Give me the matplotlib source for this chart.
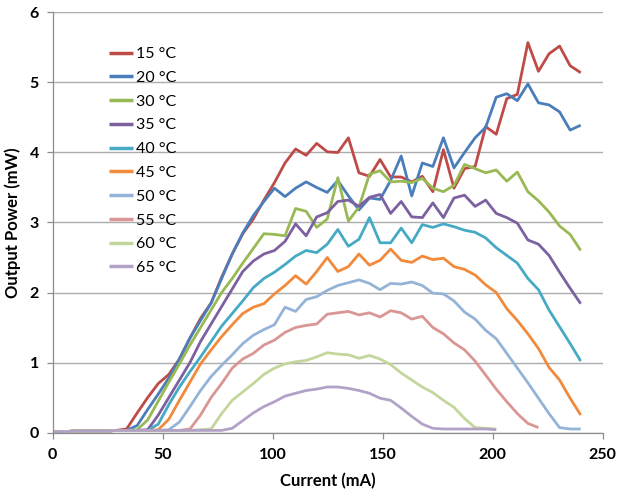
import matplotlib
matplotlib.use("Agg")
import matplotlib.pyplot as plt

current_mA = [0, 4.8, 9.6, 14.4, 19.2, 24, 28.8, 33.6, 38.4, 43.2, 48, 52.8, 57.6, 62.4,
              67.2, 72, 76.8, 81.6, 86.4, 91.2, 96, 100.8, 105.6, 110.4, 115.2, 120,
              124.8, 129.6, 134.4, 139.2, 144, 148.8, 153.6, 158.4, 163.2, 168, 172.8,
              177.6, 182.4, 187.2, 192, 196.8, 201.6, 206.4, 211.2, 216, 220.8, 225.6,
              230.4, 235.2, 240]

p15 = [0.01, 0.01, 0.02, 0.02, 0.02, 0.02, 0.03, 0.05, 0.28, 0.5, 0.7, 0.83, 1.05, 1.35,
       1.63, 1.85, 2.22, 2.55, 2.84, 3.05, 3.32, 3.57, 3.85, 4.05, 3.96, 4.13, 4.01, 4.0,
       4.21, 3.71, 3.66, 3.9, 3.65, 3.65, 3.58, 3.66, 3.44, 4.04, 3.49, 3.77, 3.8, 4.37,
       4.26, 4.77, 4.83, 5.57, 5.16, 5.41, 5.52, 5.24, 5.14]
p20 = [0.01, 0.01, 0.02, 0.02, 0.02, 0.02, 0.03, 0.03, 0.1, 0.33, 0.55, 0.78, 1.05, 1.35,
       1.6, 1.85, 2.2, 2.55, 2.85, 3.1, 3.3, 3.49, 3.37, 3.49, 3.58, 3.5, 3.43, 3.6, 3.38,
       3.18, 3.35, 3.33, 3.6, 3.95, 3.38, 3.85, 3.8, 4.21, 3.78, 4.0, 4.21, 4.36, 4.79,
       4.84, 4.74, 4.98, 4.71, 4.68, 4.58, 4.32, 4.39]
p30 = [0.01, 0.01, 0.02, 0.02, 0.02, 0.02, 0.03, 0.03, 0.04, 0.18, 0.45, 0.72, 0.98, 1.25,
       1.5, 1.75, 2.0, 2.2, 2.42, 2.63, 2.84, 2.83, 2.81, 3.2, 3.16, 2.93, 3.05, 3.64, 3.02,
       3.22, 3.69, 3.74, 3.58, 3.59, 3.57, 3.63, 3.49, 3.44, 3.53, 3.83, 3.77, 3.71, 3.75,
       3.59, 3.72, 3.44, 3.31, 3.15, 2.95, 2.83, 2.6]
p35 = [0.01, 0.01, 0.02, 0.02, 0.02, 0.02, 0.03, 0.03, 0.03, 0.04, 0.25, 0.5, 0.75, 1.0,
       1.3, 1.55, 1.8, 2.05, 2.3, 2.45, 2.55, 2.6, 2.73, 2.98, 2.81, 3.08, 3.14, 3.3, 3.32,
       3.23, 3.36, 3.4, 3.13, 3.3, 3.08, 3.07, 3.28, 3.07, 3.35, 3.39, 3.23, 3.32, 3.13,
       3.07, 2.99, 2.75, 2.69, 2.53, 2.29, 2.06, 1.84]
p40 = [0.01, 0.01, 0.02, 0.02, 0.02, 0.02, 0.03, 0.03, 0.03, 0.03, 0.12, 0.4, 0.65, 0.87,
       1.08, 1.3, 1.52, 1.7, 1.88, 2.07, 2.2, 2.29, 2.4, 2.52, 2.6, 2.57, 2.69, 2.9, 2.66,
       2.76, 3.07, 2.71, 2.71, 2.92, 2.71, 2.97, 2.93, 2.98, 2.94, 2.89, 2.86, 2.78, 2.64,
       2.53, 2.42, 2.2, 2.04, 1.75, 1.51, 1.27, 1.02]
p45 = [0.01, 0.01, 0.02, 0.02, 0.02, 0.02, 0.03, 0.03, 0.03, 0.03, 0.04, 0.19, 0.46, 0.72,
       0.98, 1.18, 1.37, 1.54, 1.7, 1.79, 1.84, 1.98, 2.1, 2.24, 2.12, 2.3, 2.5, 2.3, 2.37,
       2.55, 2.39, 2.46, 2.62, 2.46, 2.43, 2.52, 2.47, 2.49, 2.37, 2.33, 2.25, 2.11, 2.0,
       1.77, 1.6, 1.41, 1.2, 0.93, 0.75, 0.49, 0.25]
p50 = [0.01, 0.01, 0.02, 0.02, 0.02, 0.02, 0.03, 0.03, 0.03, 0.03, 0.03, 0.04, 0.15, 0.37,
       0.6, 0.8, 0.96, 1.11, 1.27, 1.39, 1.47, 1.54, 1.79, 1.73, 1.9, 1.94, 2.03, 2.1, 2.14,
       2.18, 2.13, 2.04, 2.13, 2.12, 2.15, 2.1, 1.99, 1.98, 1.88, 1.72, 1.62, 1.46, 1.34,
       1.13, 0.92, 0.71, 0.49, 0.27, 0.07, 0.05, 0.05]
p55 = [0.01, 0.01, 0.02, 0.02, 0.02, 0.02, 0.03, 0.03, 0.03, 0.03, 0.03, 0.03, 0.03, 0.05,
       0.25, 0.5, 0.7, 0.92, 1.05, 1.13, 1.25, 1.32, 1.43, 1.5, 1.53, 1.55, 1.69, 1.71, 1.73,
       1.68, 1.71, 1.65, 1.74, 1.71, 1.62, 1.66, 1.5, 1.41, 1.28, 1.18, 1.02, 0.82, 0.62,
       0.44, 0.27, 0.13, 0.07]
p60 = [0.01, 0.01, 0.02, 0.02, 0.02, 0.02, 0.03, 0.03, 0.03, 0.03, 0.03, 0.03, 0.03, 0.03,
       0.04, 0.05, 0.27, 0.46, 0.58, 0.7, 0.83, 0.92, 0.98, 1.01, 1.03, 1.08, 1.14, 1.12,
       1.11, 1.06, 1.1, 1.05, 0.97, 0.85, 0.75, 0.65, 0.57, 0.46, 0.36, 0.2, 0.07, 0.06, 0.05]
p65 = [0.01, 0.01, 0.02, 0.02, 0.02, 0.02, 0.03, 0.03, 0.03, 0.03, 0.03, 0.03, 0.03, 0.03,
       0.03, 0.03, 0.03, 0.06, 0.17, 0.28, 0.37, 0.44, 0.52, 0.56, 0.6, 0.62, 0.65, 0.65,
       0.63, 0.6, 0.56, 0.49, 0.46, 0.35, 0.23, 0.12, 0.06, 0.05, 0.05, 0.05, 0.05, 0.05, 0.04]

labels = ["15 °C", "20 °C", "30 °C", "35 °C", "40 °C", "45 °C", "50 °C", "55 °C", "60 °C", "65 °C"]
series = [p15, p20, p30, p35, p40, p45, p50, p55, p60, p65]
colors = ["#BE4B48", "#4A7EBB", "#98B954", "#7D60A0", "#46AAC5", "#F28A3C",
          "#95B3D7", "#D99694", "#C3D69B", "#B3A2C7"]

x_ticks = [0, 50, 100, 150, 200, 250]
y_ticks = [0, 1, 2, 3, 4, 5, 6]

plt.rcParams['font.family'] = ['Lato', 'DejaVu Sans']

fig = plt.figure(figsize=(6.29, 4.94), dpi=100)
W, H = 629, 494
ax = fig.add_axes([52.7 / W, 1 - 432.5 / H, 550 / W, 420 / H])

for vals, lab, col in zip(series, labels, colors):
    ax.plot(current_mA[:len(vals)], vals, color=col, lw=2.0, label=lab,
            solid_joinstyle='round', solid_capstyle='butt')

ax.set_xlim(0, 250)
ax.set_ylim(0, 6)
ax.set_xticks(x_ticks)
ax.set_yticks(y_ticks)
ax.yaxis.grid(True, color='#ADADAD', lw=1.0)
ax.set_axisbelow(True)
for s in ['top', 'right']:
    ax.spines[s].set_visible(False)
for s in ['left', 'bottom']:
    ax.spines[s].set_color('#8C8C8C')
    ax.spines[s].set_linewidth(0.9)
ax.tick_params(axis='both', colors='#8C8C8C', length=4, width=0.9, direction='out',
               labelcolor='black', labelsize=11.5)
for t in ax.get_xticklabels() + ax.get_yticklabels():
    t.set_fontweight('bold')
ax.tick_params(axis='x', pad=7)
ax.tick_params(axis='y', pad=6)

ax.set_xlabel("Current (mA)", fontsize=12, fontweight='bold', labelpad=8)
ax.set_ylabel("Output Power (mW)", fontsize=12, fontweight='bold', labelpad=6)

leg = ax.legend(loc='upper left', bbox_to_anchor=(109.3 / W, 1 - 47 / H),
                bbox_transform=fig.transFigure, frameon=False, fontsize=11.5,
                handlelength=1.5, handletextpad=0.2, labelspacing=0.6,
                borderpad=0, borderaxespad=0)
for line in leg.get_lines():
    line.set_linewidth(2.5)

fig.savefig("out.png", dpi=100)
